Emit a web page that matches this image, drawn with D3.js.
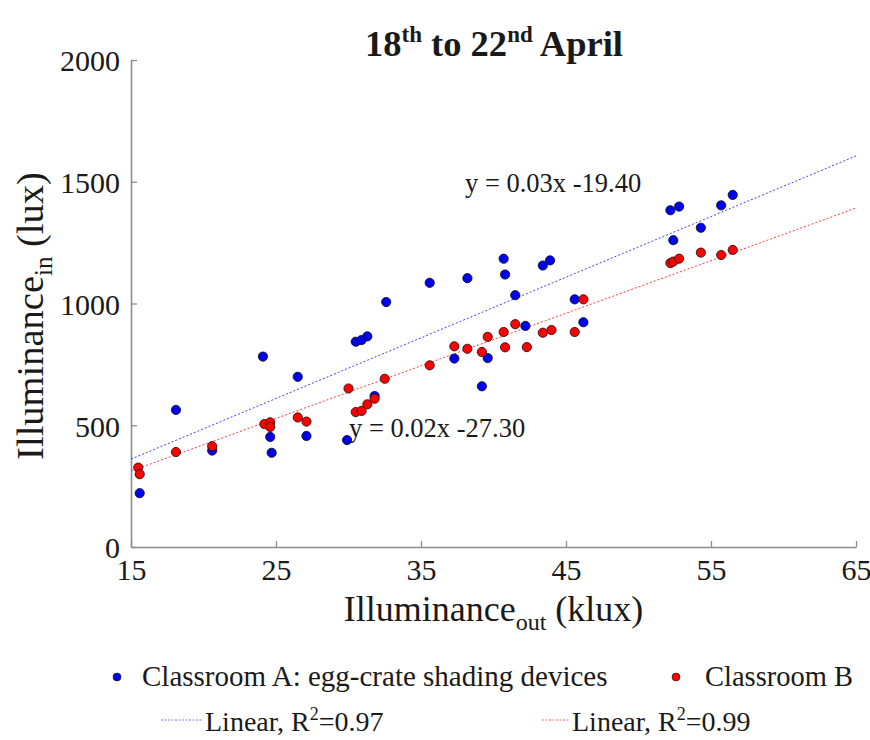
<!DOCTYPE html>
<html>
<head>
<meta charset="utf-8">
<script src="https://cdn.jsdelivr.net/npm/d3@7"></script>
<style>
  body { margin: 0; background: #fff; }
  text { font-family: "Liberation Serif", "DejaVu Serif", serif; fill: #1a1a1a; }
</style>
</head>
<body>
<svg id="chart" width="870" height="740"></svg>
<script>
// Classroom A (egg-crate shading), outdoor klux vs indoor lux
const aOut = [15.6, 18.1, 20.6, 24.1, 24.6, 24.7, 26.5, 27.1, 29.9, 30.5, 30.9, 31.3, 31.8, 32.6, 35.6, 37.3, 38.2,
  39.2, 39.6, 40.7, 40.8, 41.5, 42.2, 43.4, 43.9, 45.6, 46.2, 52.2, 52.8, 52.4, 54.3, 55.7, 56.5];
const aIn = [221, 563, 396, 782, 452, 387, 699, 456, 439, 843, 850, 865, 620, 1006, 1085, 774, 1104,
  660, 776, 1184, 1119, 1034, 908, 1156, 1177, 1017, 923, 1383, 1398, 1260, 1311, 1403, 1446];

// Classroom B
const bOut = [15.5, 15.6, 18.1, 20.6, 24.2, 24.6, 24.6, 26.5, 27.1, 30.0, 30.5, 30.9, 31.3, 31.8, 32.5, 35.6, 37.3,
  38.2, 39.2, 39.6, 40.7, 40.8, 41.5, 42.3, 43.4, 44.0, 45.6, 46.2, 52.2, 52.4, 52.8, 54.3, 55.7, 56.5];
const bIn = [326, 299, 390, 414, 505, 512, 493, 532, 515, 651, 554, 559, 586, 609, 691, 746, 824,
  814, 801, 863, 883, 820, 915, 821, 880, 891, 883, 1017, 1166, 1172, 1184, 1209, 1199, 1220];

// linear trend lines, read at the ends of the x axis
const trendX = [15, 65];
const trendA = [361, 1606];
const trendB = [312, 1392];

const xTicks = [15, 25, 35, 45, 55, 65];
const yTicks = [0, 500, 1000, 1500, 2000];

const blue = "#0000f0";
const red = "#ff0000";

const svg = d3.select("#chart");
svg.append("rect").attr("width", 870).attr("height", 740).attr("fill", "#fff");

const x = d3.scaleLinear().domain([15, 65]).range([131, 856]);
const y = d3.scaleLinear().domain([0, 2000]).range([547, 60]);

// axes, ticks pointing inward
const xAxis = svg.append("g")
  .attr("transform", `translate(0,${y(0)})`)
  .call(d3.axisBottom(x).tickValues(xTicks).tickFormat(d3.format("d"))
    .tickSizeInner(-6).tickSizeOuter(0).tickPadding(10));
const yAxis = svg.append("g")
  .attr("transform", `translate(${x(15)},0)`)
  .call(d3.axisLeft(y).tickValues(yTicks).tickFormat(d3.format("d"))
    .tickSizeInner(-6).tickSizeOuter(0).tickPadding(11));

[xAxis, yAxis].forEach(ax => {
  ax.select(".domain").attr("stroke", "#8c8c8c").attr("stroke-width", 1.6);
  ax.selectAll(".tick line").attr("stroke", "#8c8c8c").attr("stroke-width", 1.3);
  ax.selectAll(".tick text")
    .attr("font-size", 30)
    .attr("fill", "#1a1a1a");
});
xAxis.selectAll(".tick text").attr("dy", "0.78em");
yAxis.selectAll(".tick text").attr("dy", "0.36em");

// trend lines
const line = d3.line().x(d => x(d[0])).y(d => y(d[1]));
svg.append("path")
  .attr("d", line(d3.zip(trendX, trendA)))
  .attr("fill", "none").attr("stroke", "#3f3fff").attr("stroke-width", 1)
  .attr("stroke-dasharray", "2,2");
svg.append("path")
  .attr("d", line(d3.zip(trendX, trendB)))
  .attr("fill", "none").attr("stroke", "#ff3a3a").attr("stroke-width", 1)
  .attr("stroke-dasharray", "2,2");

// points
svg.append("g").selectAll("circle")
  .data(d3.zip(aOut, aIn))
  .join("circle")
  .attr("cx", d => x(d[0]))
  .attr("cy", d => y(d[1]))
  .attr("r", 4.6)
  .attr("fill", blue)
  .attr("stroke", "#101030")
  .attr("stroke-width", 0.9);

svg.append("g").selectAll("circle")
  .data(d3.zip(bOut, bIn))
  .join("circle")
  .attr("cx", d => x(d[0]))
  .attr("cy", d => y(d[1]))
  .attr("r", 4.6)
  .attr("fill", red)
  .attr("stroke", "#301010")
  .attr("stroke-width", 0.9);

// equations
svg.append("text").attr("x", 465).attr("y", 192).attr("font-size", 26.5).text("y = 0.03x -19.40");
svg.append("text").attr("x", 349).attr("y", 437).attr("font-size", 26.5).text("y = 0.02x -27.30");

// title
const title = svg.append("text")
  .attr("x", 494).attr("y", 56)
  .attr("text-anchor", "middle")
  .attr("font-size", 36.5)
  .attr("font-weight", "bold");
title.append("tspan").text("18");
title.append("tspan").attr("font-size", 23).attr("dy", -14).text("th");
title.append("tspan").attr("dy", 14).text(" to 22");
title.append("tspan").attr("font-size", 23).attr("dy", -14).text("nd");
title.append("tspan").attr("dy", 14).text(" April");

// x axis title
const xt = svg.append("text")
  .attr("x", 493.5).attr("y", 621)
  .attr("text-anchor", "middle")
  .attr("font-size", 36);
xt.append("tspan").text("Illuminance");
xt.append("tspan").attr("font-size", 24).attr("dy", 9).text("out");
xt.append("tspan").attr("dy", -9).text(" (klux)");

// y axis title
const yt = svg.append("text")
  .attr("transform", "translate(43,316) rotate(-90)")
  .attr("text-anchor", "middle")
  .attr("font-size", 38.5);
yt.append("tspan").text("Illuminance");
yt.append("tspan").attr("font-size", 25).attr("dy", 9).text("in");
yt.append("tspan").attr("dy", -9).text(" (lux)");

// legend
const legend = svg.append("g");
legend.append("circle").attr("cx", 117).attr("cy", 677).attr("r", 4).attr("fill", blue).attr("stroke", "#101030").attr("stroke-width", 0.6);
legend.append("text").attr("x", 142).attr("y", 686).attr("font-size", 29).text("Classroom A: egg-crate shading devices");
legend.append("circle").attr("cx", 676).attr("cy", 677).attr("r", 4).attr("fill", red).attr("stroke", "#301010").attr("stroke-width", 0.6);
legend.append("text").attr("x", 705).attr("y", 686).attr("font-size", 28.5).text("Classroom B");

legend.append("line").attr("x1", 161).attr("x2", 203).attr("y1", 720).attr("y2", 720)
  .attr("stroke", "#6f6fff").attr("stroke-width", 1).attr("stroke-dasharray", "2,1.5");
const l1 = legend.append("text").attr("x", 205).attr("y", 731).attr("font-size", 28);
l1.append("tspan").text("Linear, R");
l1.append("tspan").attr("font-size", 18).attr("dy", -11).text("2");
l1.append("tspan").attr("dy", 11).text("=0.97");

legend.append("line").attr("x1", 542).attr("x2", 570).attr("y1", 720).attr("y2", 720)
  .attr("stroke", "#ff5a5a").attr("stroke-width", 1).attr("stroke-dasharray", "2,1.5");
const l2 = legend.append("text").attr("x", 572).attr("y", 731).attr("font-size", 28);
l2.append("tspan").text("Linear, R");
l2.append("tspan").attr("font-size", 18).attr("dy", -11).text("2");
l2.append("tspan").attr("dy", 11).text("=0.99");
</script>
</body>
</html>
